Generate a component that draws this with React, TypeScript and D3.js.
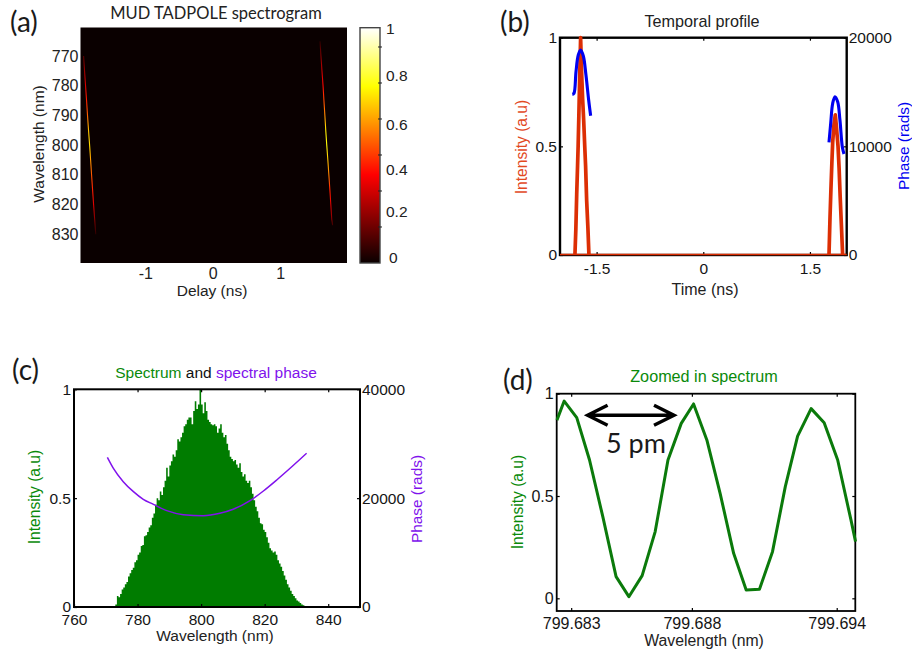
import React, { useRef, useEffect } from 'react';
import * as d3 from 'd3';

// (a) spectrogram traces
const traceLeftWavelength = [770, 775, 780, 785, 790, 795, 800, 805, 810, 815, 820, 825, 830];
const traceLeftDelay = [-1.914, -1.9, -1.885, -1.87, -1.856, -1.841, -1.825, -1.81, -1.796, -1.781, -1.766, -1.75, -1.734];
const traceLeftLevel = [0.12, 0.22, 0.32, 0.42, 0.52, 0.66, 0.7, 0.6, 0.5, 0.42, 0.32, 0.18, 0.05];
const traceRightWavelength = [765, 770, 775, 780, 785, 790, 795, 800, 805, 810, 815, 820, 825, 827];
const traceRightDelay = [1.59, 1.604, 1.619, 1.635, 1.648, 1.662, 1.675, 1.69, 1.706, 1.721, 1.736, 1.75, 1.764, 1.777];
const traceRightLevel = [0.05, 0.18, 0.28, 0.38, 0.48, 0.58, 0.72, 0.76, 0.66, 0.56, 0.42, 0.32, 0.18, 0.08];
const colorbarLabels = [0, 0.2, 0.4, 0.6, 0.8, 1];
const colorbarTicks = [0.153, 0.306, 0.459, 0.612, 0.765, 0.918];
const colormapStops = [0, 0.375, 0.75, 1];
const colormapColors = ['#0a0000', '#ff0000', '#ffff00', '#ffffff'];

// (b) temporal profile
const baselineTime = [-2.015, 2.017];
const baselineIntensity = [0.002, 0.002];
const pulseLeftTime = [-1.805, -1.792, -1.78, -1.768, -1.76, -1.75, -1.738, -1.725, -1.712, -1.697, -1.682, -1.667, -1.655, -1.64, -1.622, -1.608];
const pulseLeftIntensity = [0, 0.12, 0.28, 0.41, 0.5, 0.64, 0.82, 1, 0.85, 0.72, 0.62, 0.5, 0.41, 0.25, 0.12, 0];
const pulseRightTime = [1.768, 1.782, 1.795, 1.808, 1.82, 1.838, 1.857, 1.875, 1.895, 1.91, 1.925, 1.942, 1.96];
const pulseRightIntensity = [0, 0.17, 0.3, 0.42, 0.52, 0.6, 0.645, 0.58, 0.5, 0.4, 0.27, 0.14, 0];
const phaseLeftTime = [-1.842, -1.819, -1.79, -1.758, -1.725, -1.687, -1.65, -1.612, -1.584];
const phaseLeftRads = [14785, 14877, 16871, 18405, 18865, 18313, 16564, 14264, 12822];
const phaseRightTime = [1.768, 1.792, 1.82, 1.852, 1.89, 1.922, 1.955, 1.979];
const phaseRightRads = [10368, 12117, 13957, 14570, 14110, 12423, 9969, 9294];

// (c) spectrum, one value every 0.5 nm from 772 nm
const spectrumStart = 772;
const spectrumStep = 0.5;
const spectrumValues = [
  0, 0.002, 0.012, 0.05, 0.045, 0.06, 0.08, 0.09, 0.105, 0.115, 0.14, 0.155, 0.17, 0.18, 0.205, 0.215,
  0.24, 0.25, 0.28, 0.285, 0.325, 0.33, 0.345, 0.365, 0.375, 0.41, 0.43, 0.47, 0.5, 0.49, 0.53, 0.515,
  0.55, 0.58, 0.64, 0.6, 0.65, 0.67, 0.7, 0.69, 0.72, 0.77, 0.76, 0.78, 0.8, 0.83, 0.84, 0.86,
  0.87, 0.87, 0.84, 0.9, 0.945, 0.91, 0.93, 1.0, 0.93, 0.89, 0.94, 0.9, 0.86, 0.85, 0.84, 0.835,
  0.84, 0.83, 0.8, 0.82, 0.84, 0.8, 0.78, 0.79, 0.75, 0.72, 0.69, 0.68, 0.67, 0.675, 0.655, 0.64,
  0.66, 0.62, 0.6, 0.61, 0.58, 0.57, 0.58, 0.55, 0.52, 0.49, 0.46, 0.44, 0.41, 0.385, 0.38, 0.355,
  0.345, 0.32, 0.295, 0.27, 0.26, 0.25, 0.255, 0.24, 0.215, 0.2, 0.185, 0.165, 0.145, 0.125, 0.105, 0.09,
  0.075, 0.06, 0.05, 0.04, 0.03, 0.025, 0.018, 0.012, 0.008, 0.005, 0,
];
const spectralPhaseWavelength = [770.5, 772.4, 775.5, 778.7, 781.8, 785, 789.2, 794.4, 800.7, 805.9, 810.1, 815.4, 819.6, 823.8, 828, 833.2];
const spectralPhaseRads = [27504, 25482, 23032, 21195, 19786, 18867, 17703, 16968, 16784, 17213, 17948, 19541, 21317, 23339, 25482, 28239];

// (d) zoomed spectrum
const zoomWavelength = [
  799.68241, 799.68271, 799.68323, 799.68376, 799.68431, 799.68486, 799.68539, 799.68594, 799.68648,
  799.68701, 799.68756, 799.68807, 799.68862, 799.68917, 799.68973, 799.69025, 799.6908, 799.69134,
  799.69187, 799.69238, 799.69294, 799.69348, 799.69404, 799.69459, 799.69478,
];
const zoomIntensity = [
  0.871, 0.964, 0.883, 0.676, 0.399, 0.106, 0.008, 0.111, 0.326, 0.676, 0.855, 0.95, 0.774, 0.513,
  0.22, 0.041, 0.044, 0.228, 0.546, 0.793, 0.927, 0.858, 0.676, 0.383, 0.277,
];
const zoomTicks = [799.683, 799.688, 799.694];
const arrowSpan = [799.68368, 799.68726];

const SANS = '"Liberation Sans", Arial, sans-serif';
const CALLOUT = 'Lato, "Open Sans", sans-serif';
const GREEN = '#007c00';
const PURPLE = '#8012ec';
const RED = '#dc2e04';

const hot = d3.scaleLinear<string>().domain(colormapStops).range(colormapColors);

type Sel = d3.Selection<SVGSVGElement, unknown, null, undefined>;
type Scale = d3.ScaleLinear<number, number>;

function axes(svg: Sel, x: Scale, y: Scale, o: {
  xTicks: number[]; yTicks: number[]; y2?: Scale; y2Ticks?: number[];
  frame: number; pad: number; size: number; xFormat?: (d: number) => string;
}) {
  const [x0, x1] = x.range();
  const [y0, y1] = y.range();
  const g = svg.append('g');
  const fmt = o.xFormat || ((d: number) => String(d));

  g.append('g').attr('transform', `translate(0,${y0})`)
    .call(d3.axisBottom(x).tickValues(o.xTicks).tickSize(-3).tickPadding(o.pad).tickFormat(d => fmt(+d)));
  g.append('g').attr('transform', `translate(0,${y1})`)
    .call(d3.axisTop(x).tickValues(o.xTicks).tickSize(-3).tickFormat(() => ''));
  g.append('g').attr('transform', `translate(${x0},0)`)
    .call(d3.axisLeft(y).tickValues(o.yTicks).tickSize(-3).tickPadding(3).tickFormat(d => String(d)));
  if (o.y2) {
    g.append('g').attr('transform', `translate(${x1},0)`)
      .call(d3.axisRight(o.y2).tickValues(o.y2Ticks || []).tickSize(-3).tickPadding(2).tickFormat(d => String(d)));
  } else {
    g.append('g').attr('transform', `translate(${x1},0)`)
      .call(d3.axisRight(y).tickValues(o.yTicks).tickSize(-3).tickFormat(() => ''));
  }
  g.selectAll('.domain').remove();
  g.selectAll('text').attr('font-family', SANS).attr('font-size', o.size).attr('fill', '#151515');
  g.selectAll('line').attr('stroke', '#000').attr('stroke-width', 1.2);
  g.append('rect')
    .attr('x', x0).attr('y', y1).attr('width', x1 - x0).attr('height', y0 - y1)
    .attr('fill', 'none').attr('stroke', '#000').attr('stroke-width', o.frame);
}

function label(svg: Sel, txt: string, x: number, y: number, color = '#222', size = 15, rotate = false) {
  svg.append('text')
    .attr('transform', `translate(${x},${y})${rotate ? ' rotate(-90)' : ''}`)
    .attr('text-anchor', 'middle')
    .attr('dominant-baseline', rotate ? 'central' : 'auto')
    .attr('font-family', SANS).attr('font-size', size).attr('fill', color)
    .text(txt);
}

function callout(svg: Sel, txt: string, x: number, y: number, size = 28) {
  svg.append('text').attr('x', x).attr('y', y)
    .attr('font-family', CALLOUT).attr('font-size', size).attr('fill', '#1a1a1a')
    .text(txt);
}

function drawA(svg: Sel) {
  const x = d3.scaleLinear().domain([-1.96, 1.99]).range([80.5, 347]);
  const y = d3.scaleLinear().domain([839.7, 760.4]).range([263, 27.5]);

  svg.append('rect').attr('x', 80.5).attr('y', 27.5).attr('width', 266.5).attr('height', 235.5).attr('fill', hot(0));

  const defs = svg.append('defs');
  const trace = (id: string, wl: number[], delay: number[], level: number[]) => {
    const grad = defs.append('linearGradient').attr('id', id)
      .attr('gradientUnits', 'userSpaceOnUse')
      .attr('x1', 0).attr('x2', 0).attr('y1', y(wl[0])).attr('y2', y(wl[wl.length - 1]));
    level.forEach((v, i) => {
      grad.append('stop')
        .attr('offset', (wl[i] - wl[0]) / (wl[wl.length - 1] - wl[0]))
        .attr('stop-color', hot(v));
    });
    const line = d3.line<number>().x((_, i) => x(delay[i])).y(d => y(d));
    svg.append('path').attr('d', line(wl))
      .attr('fill', 'none').attr('stroke', `url(#${id})`).attr('stroke-width', 1.1);
  };
  trace('traceLeft', traceLeftWavelength, traceLeftDelay, traceLeftLevel);
  trace('traceRight', traceRightWavelength, traceRightDelay, traceRightLevel);

  const g = svg.append('g');
  g.append('g').attr('transform', 'translate(0,263)')
    .call(d3.axisBottom(x).tickValues([-1, 0, 1]).tickSize(0).tickPadding(5).tickFormat(d => String(d)));
  g.append('g').attr('transform', 'translate(80.5,0)')
    .call(d3.axisLeft(y).tickValues(d3.range(770, 831, 10)).tickSize(0).tickPadding(2).tickFormat(d => String(d)));
  g.selectAll('.domain').remove();
  g.selectAll('text').attr('font-family', SANS).attr('font-size', 16).attr('fill', '#222');

  // colorbar
  const cy = d3.scaleLinear().domain([0, 1]).range([263, 27.7]);
  const barGrad = defs.append('linearGradient').attr('id', 'hotBar')
    .attr('x1', 0).attr('x2', 0).attr('y1', 1).attr('y2', 0);
  colormapStops.forEach((s, i) => {
    barGrad.append('stop').attr('offset', s).attr('stop-color', colormapColors[i]);
  });
  svg.append('rect').attr('x', 360).attr('y', cy(1)).attr('width', 20).attr('height', cy(0) - cy(1))
    .attr('fill', 'url(#hotBar)').attr('stroke', '#444').attr('stroke-width', 1.4);
  svg.append('g').selectAll('line').data(colorbarTicks).join('line')
    .attr('x1', 378).attr('x2', 382).attr('y1', d => cy(d)).attr('y2', d => cy(d))
    .attr('stroke', '#222');
  const labelY = d3.scaleLinear().domain(colorbarLabels).range([257, 211, 169, 124, 75, 28]);
  svg.append('g').selectAll('text').data(colorbarLabels).join('text')
    .attr('x', d => (d === 0 ? 389 : 386)).attr('y', d => labelY(d))
    .attr('dominant-baseline', 'central')
    .attr('font-family', SANS).attr('font-size', 15.5).attr('fill', '#222')
    .text(d => String(d));

  svg.append('text').attr('x', 216).attr('y', 19).attr('text-anchor', 'middle')
    .attr('font-family', CALLOUT).attr('font-size', 16.5).attr('fill', '#222')
    .text('MUD TADPOLE spectrogram');
  label(svg, 'Delay (ns)', 212, 296, '#222', 15.5);
  label(svg, 'Wavelength (nm)', 38, 144, '#222', 15.5, true);
  callout(svg, '(a)', 10, 32);
}

function drawB(svg: Sel) {
  const x = d3.scaleLinear().domain([-2.015, 2.017]).range([560, 846.7]);
  const y = d3.scaleLinear().domain([0, 1]).range([255, 37.7]);
  const y2 = d3.scaleLinear().domain([0, 20000]).range([255, 37.7]);

  axes(svg, x, y, {
    xTicks: [-1.5, 0, 1.5], yTicks: [0, 0.5, 1], y2, y2Ticks: [0, 10000, 20000],
    frame: 2.4, pad: 8, size: 15.5,
  });

  const red = (ts: number[], vs: number[], w: number) => {
    const line = d3.line<number>().x(d => x(d)).y((_, i) => y(vs[i]));
    svg.append('path').attr('d', line(ts)).attr('fill', 'none')
      .attr('stroke', RED).attr('stroke-width', w).attr('stroke-linejoin', 'round');
  };
  red(baselineTime, baselineIntensity, 1.5);
  red(pulseLeftTime, pulseLeftIntensity, 3.7);
  red(pulseRightTime, pulseRightIntensity, 3.7);

  const blue = (ts: number[], vs: number[]) => {
    const line = d3.line<number>().x(d => x(d)).y((_, i) => y2(vs[i])).curve(d3.curveCatmullRom);
    svg.append('path').attr('d', line(ts)).attr('fill', 'none')
      .attr('stroke', '#0000f0').attr('stroke-width', 3.1);
  };
  blue(phaseLeftTime, phaseLeftRads);
  blue(phaseRightTime, phaseRightRads);

  label(svg, 'Temporal profile', 702, 27, '#222', 16.2);
  label(svg, 'Time (ns)', 705, 295, '#222', 16);
  label(svg, 'Intensity (a.u)', 521, 147, '#e2491f', 15.6, true);
  label(svg, 'Phase (rads)', 903, 146, '#0000f0', 15.4, true);
  callout(svg, '(b)', 500, 32);
}

function drawC(svg: Sel) {
  const x = d3.scaleLinear().domain([760, 850]).range([74, 360]);
  const y = d3.scaleLinear().domain([0, 1]).range([607, 389.3]);
  const y2 = d3.scaleLinear().domain([0, 40000]).range([607, 389.3]);
  const wl = spectrumValues.map((_, i) => spectrumStart + i * spectrumStep);

  const area = d3.area<number>()
    .x((_, i) => x(wl[i])).y0(y(0)).y1(d => y(d))
    .curve(d3.curveStepAfter);
  svg.append('path').attr('d', area(spectrumValues)).attr('fill', GREEN);

  const phase = d3.line<number>()
    .x(d => x(d)).y((_, i) => y2(spectralPhaseRads[i]))
    .curve(d3.curveMonotoneX);
  svg.append('path').attr('d', phase(spectralPhaseWavelength)).attr('fill', 'none')
    .attr('stroke', PURPLE).attr('stroke-width', 1.5);

  axes(svg, x, y, {
    xTicks: [760, 780, 800, 820, 840], yTicks: [0, 0.5, 1], y2, y2Ticks: [0, 20000, 40000],
    frame: 2, pad: 7, size: 15.5,
  });

  const title = svg.append('text').attr('x', 216).attr('y', 378).attr('text-anchor', 'middle')
    .attr('font-family', SANS).attr('font-size', 15.5);
  title.append('tspan').attr('fill', '#0a8a0a').text('Spectrum');
  title.append('tspan').attr('fill', '#111').text(' and ');
  title.append('tspan').attr('fill', PURPLE).text('spectral phase');

  label(svg, 'Wavelength (nm)', 215, 641, '#222', 15.5);
  label(svg, 'Intensity (a.u)', 34, 497, '#0a8a0a', 15.6, true);
  label(svg, 'Phase (rads)', 416, 499, PURPLE, 15.4, true);
  callout(svg, '(c)', 12, 380);
}

function drawD(svg: Sel) {
  const x = d3.scaleLinear().domain([799.6824, 799.69477]).range([556.7, 855.3]);
  const y = d3.scaleLinear().domain([-0.062, 1]).range([611, 393.7]);

  axes(svg, x, y, {
    xTicks: zoomTicks, yTicks: [0, 0.5, 1], frame: 1.8, pad: 7, size: 16,
    xFormat: d => d.toFixed(3),
  });

  const line = d3.line<number>().x(d => x(d)).y((_, i) => y(zoomIntensity[i]));
  svg.append('path').attr('d', line(zoomWavelength)).attr('fill', 'none')
    .attr('stroke', '#0b7a0b').attr('stroke-width', 3).attr('stroke-linejoin', 'round');

  // 5 pm arrow
  const ay = y(0.895);
  const [a0, a1] = arrowSpan.map(d => x(d));
  const arrow = d3.path();
  arrow.moveTo(a0, ay); arrow.lineTo(a1, ay);
  arrow.moveTo(a0 + 20, ay - 10); arrow.lineTo(a0, ay); arrow.lineTo(a0 + 20, ay + 10);
  arrow.moveTo(a1 - 20, ay - 10); arrow.lineTo(a1, ay); arrow.lineTo(a1 - 20, ay + 10);
  svg.append('path').attr('d', arrow.toString()).attr('fill', 'none')
    .attr('stroke', '#000').attr('stroke-width', 3.4);

  callout(svg, '5 pm', 606, 453, 27);
  label(svg, 'Zoomed in spectrum', 704, 382, '#0a8a0a', 16.2);
  label(svg, 'Wavelength (nm)', 704, 646, '#222', 15.8);
  label(svg, 'Intensity (a.u)', 517, 502, '#0a8a0a', 15.6, true);
  callout(svg, '(d)', 503, 390);
}

const App: React.FC = () => {
  const svgRef = useRef<SVGSVGElement>(null);

  useEffect(() => {
    if (!svgRef.current) return;
    const svg = d3.select(svgRef.current) as Sel;
    svg.selectAll('*').remove();
    drawA(svg);
    drawB(svg);
    drawC(svg);
    drawD(svg);
  }, []);

  return (
    <svg
      ref={svgRef}
      width={912}
      height={651}
      style={{ position: 'absolute', left: 0, top: 0, background: '#fff' }}
    />
  );
};

export default App;
